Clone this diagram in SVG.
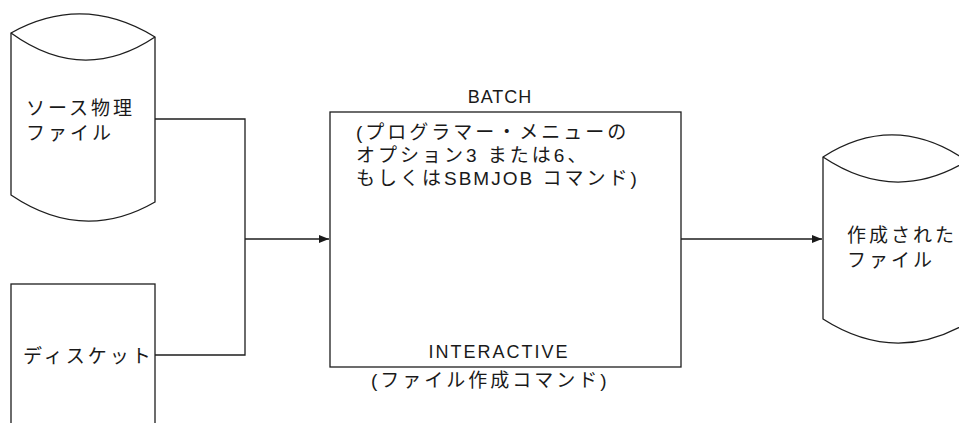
<svg xmlns="http://www.w3.org/2000/svg" width="959" height="423" viewBox="0 0 959 423">
<style>
.s{fill:none;stroke:#1e1e1e;stroke-width:1.3}
.bg{fill:#fff;stroke:#1e1e1e;stroke-width:1.3}
.t{font-family:"Liberation Sans","Noto Sans CJK JP",sans-serif;font-size:19px;fill:#1a1a1a;letter-spacing:3px}
.e{font-family:"Liberation Sans","Noto Sans CJK JP",sans-serif;font-size:18px;fill:#1a1a1a}
</style>
<defs>
<marker id="ah" markerWidth="10" markerHeight="8" refX="10" refY="4" orient="auto" markerUnits="userSpaceOnUse">
<path d="M0,0 L10,4 L0,8 Z" fill="#1a1a1a"/>
</marker>
</defs>
<rect width="959" height="423" fill="#fff"/>
<g id="connectors">
<path class="s" d="M155,119 H245 V355 H155"/>
<path class="s" d="M245,239 H329" marker-end="url(#ah)"/>
<path class="s" d="M681,239 H822" marker-end="url(#ah)"/>
</g>
<g id="source-file">
<path class="bg" d="M11,33 Q83,-7 155,37 V202 Q83,243.5 11,195 Z"/>
<path class="s" d="M11,33 Q83,85 155,37"/>
<text class="t" x="26" y="115">ソース物理</text>
<text class="t" x="26" y="140">ファイル</text>
</g>
<g id="diskette">
<rect class="bg" x="11" y="284" width="144" height="150"/>
<text class="t" x="23" y="363">ディスケット</text>
</g>
<g id="process">
<rect class="bg" x="330" y="112" width="351" height="255"/>
<text class="e" x="500" y="103" text-anchor="middle" letter-spacing="1">BATCH</text>
<text class="t" x="356" y="139">(プログラマー・メニューの</text>
<text class="t" x="356" y="162">オプション3 または6、</text>
<text class="t" x="356" y="185">もしくは<tspan letter-spacing="2">SBMJOB</tspan> コマンド)</text>
<text class="e" x="499" y="358" text-anchor="middle" letter-spacing="2">INTERACTIVE</text>
<text class="t" x="371" y="387">(ファイル作成コマンド)</text>
</g>
<g id="created-file">
<path class="bg" d="M823,157 Q895,111 967,161 V323 Q895,365 823,319 Z"/>
<path class="s" d="M823,157 Q895,205 967,161"/>
<text class="t" x="847" y="242">作成された</text>
<text class="t" x="847" y="267">ファイル</text>
</g>
</svg>
